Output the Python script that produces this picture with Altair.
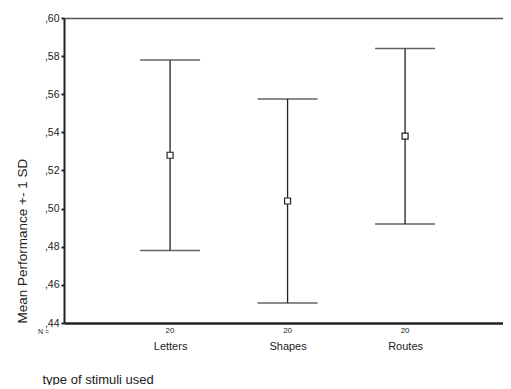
import altair as alt
import pandas as pd

categories = ["Letters", "Shapes", "Routes"]
means = [0.528, 0.504, 0.538]
sds = [0.050, 0.0535, 0.046]
counts = ["20", "20", "20"]
y_ticks = [0.44, 0.46, 0.48, 0.50, 0.52, 0.54, 0.56, 0.58, 0.60]

df = pd.DataFrame({
    "cat": categories,
    "mean": means,
    "lo": [m - s for m, s in zip(means, sds)],
    "hi": [m + s for m, s in zip(means, sds)],
    "n": counts,
})

W, H = 439, 305
FONT = "Liberation Sans"
INK = "#222222"

xscale = alt.Scale(type="point", domain=categories, padding=0.868, align=0.52)
yscale = alt.Scale(domain=[0.44, 0.60], nice=False, zero=False)

yaxis = alt.Axis(
    values=y_ticks, grid=False, domainColor=INK, domainWidth=2,
    tickColor=INK, tickSize=3, tickWidth=2, labelPadding=2,
    labelFont=FONT, labelFontSize=10.5, labelColor=INK,
    labelExpr="replace(format(datum.value, '.2f'), '0.', ',')",
    title="Mean Performance +- 1 SD", titleFont=FONT, titleFontSize=13.5,
    titleFontWeight="normal", titleColor=INK, titleAngle=270,
    titleX=-42, titleY=H, titleAlign="left", titleBaseline="middle",
)
xaxis_bottom = alt.Axis(
    orient="bottom", domainColor=INK, domainWidth=2.5, ticks=False,
    labelPadding=17, labelFont=FONT, labelFontSize=11, labelColor=INK,
    labelAngle=0,
    title="type of stimuli used", titleFont=FONT, titleFontSize=13,
    titleFontWeight="normal", titleColor=INK, titleX=-22, titleY=56,
    titleAlign="left", titleBaseline="middle",
)
xaxis_top = alt.Axis(orient="top", domainColor="#555555", domainWidth=1.5,
                     ticks=False, labels=False, title=None)

base = alt.Chart(df)
y_lo = alt.Y("lo:Q", scale=yscale, axis=yaxis)

rules = base.mark_rule(color=INK, strokeWidth=1.3).encode(
    x=alt.X("cat:N", scale=xscale, sort=categories, axis=xaxis_bottom),
    y=y_lo, y2="hi:Q",
)
top_line = base.mark_rule(opacity=0).encode(
    x=alt.X("cat:N", scale=xscale, sort=categories, axis=xaxis_top),
    y=y_lo, y2="hi:Q",
)
cap_hi = base.mark_tick(color=INK, size=60, thickness=1.5).encode(
    x=alt.X("cat:N", scale=xscale, sort=categories, axis=None),
    y=alt.Y("hi:Q", scale=yscale, axis=yaxis),
)
cap_lo = base.mark_tick(color=INK, size=60, thickness=1.5).encode(
    x=alt.X("cat:N", scale=xscale, sort=categories, axis=None),
    y=alt.Y("lo:Q", scale=yscale, axis=yaxis),
)
pts = base.mark_point(shape="square", filled=True, fill="white", stroke=INK,
                      strokeWidth=1.2, size=36, opacity=1).encode(
    x=alt.X("cat:N", scale=xscale, sort=categories, axis=None),
    y=alt.Y("mean:Q", scale=yscale, axis=yaxis),
)
ntext = base.mark_text(font=FONT, fontSize=8, color=INK, baseline="middle").encode(
    x=alt.X("cat:N", scale=xscale, sort=categories, axis=None),
    y=alt.value(H + 8),
    text="n:N",
)
nlabel = alt.Chart(pd.DataFrame({"t": ["N ="]})).mark_text(
    font=FONT, fontSize=7, color=INK, baseline="middle", align="left"
).encode(x=alt.value(-26), y=alt.value(H + 9), text="t:N")

chart = alt.layer(rules, top_line, cap_hi, cap_lo, pts, ntext, nlabel).resolve_axis(
    x="independent"
).properties(
    width=W, height=H,
    autosize=alt.AutoSizeParams(type="none"),
    padding={"left": 56, "top": 10, "right": 0, "bottom": 62},
).configure_view(stroke=None)

chart.save("out.html", embed_options={"renderer": "svg", "actions": False})
